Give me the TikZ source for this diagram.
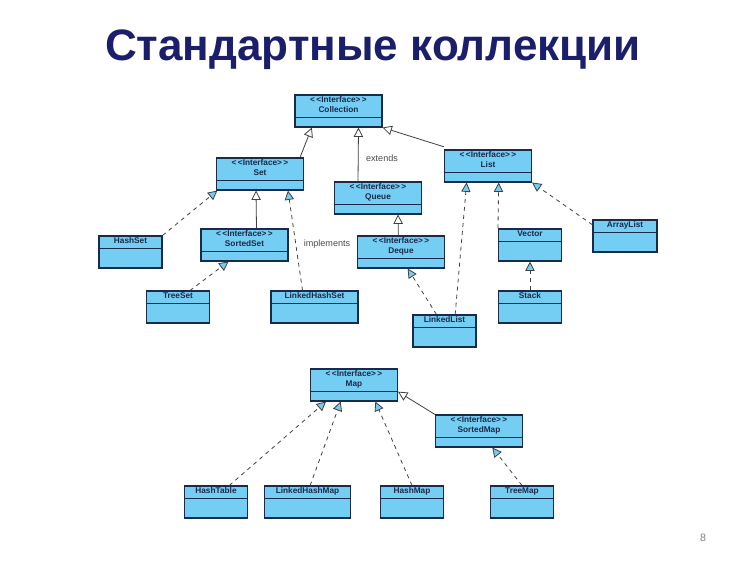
\documentclass[tikz,border=0pt]{standalone}
\usepackage{fontspec}
\setmainfont{Liberation Sans}
\usepackage{xcolor}
\usetikzlibrary{arrows.meta}
\definecolor{boxfill}{HTML}{74CDF2}
\definecolor{boxline}{HTML}{1A2A4A}
\definecolor{titleblue}{HTML}{1B1F6B}
\tikzset{
  umlbox/.style={draw=boxline,fill=boxfill,line width=0.8pt,rectangle,inner sep=0pt,minimum height=24pt},
  iface/.style={umlbox,path picture={\draw[boxline,line width=0.6pt]
      ([yshift=-17pt]path picture bounding box.north west) -- ([yshift=-17pt]path picture bounding box.north east);}},
  cls/.style={umlbox,path picture={\draw[boxline,line width=0.6pt]
      ([yshift=-9.5pt]path picture bounding box.north west) -- ([yshift=-9.5pt]path picture bounding box.north east);}},
  boxtext/.style={font=\bfseries\fontsize{6.2}{7.4}\selectfont,text=boxline,align=center,inner sep=1.6pt},
  ext/.style={draw=black!75,line width=0.6pt,-{Triangle[open,fill=white,length=7pt,width=7pt]}},
  impl/.style={draw=black!75,line width=0.6pt,dashed,-{Triangle[open,fill=boxfill,length=7pt,width=7pt]}},
}
% \ibox{name}{cx}{cy}{width px}{text}
\newcommand{\ibox}[5]{\node[iface,minimum width=#4*0.75pt,
  label={[boxtext,anchor=north]north:{<\,<Interface>\,>\\#5}}] (#1) at (#2,#3) {};}
\newcommand{\cbox}[5]{\node[cls,minimum width=#4*0.75pt,
  label={[boxtext,anchor=north,inner sep=1.2pt]north:{#5}}] (#1) at (#2,#3) {};}
\begin{document}
\begin{tikzpicture}[x=0.75pt,y=0.75pt,yscale=-1,xscale=1]
\useasboundingbox (0,0) rectangle (750,561);

% Title
\node[font=\bfseries\fontsize{33}{38}\selectfont,text=titleblue] (title) at (373,50) {Стандартные коллекции};

% Interfaces
\ibox{coll}{338.5}{111}{87}{Collection}
\ibox{set}{260}{174}{87}{Set}
\ibox{queue}{378}{198}{87}{Queue}
\ibox{list}{488}{166}{87}{List}
\ibox{sset}{244.5}{245}{87}{SortedSet}
\ibox{deque}{401}{252}{87}{Deque}
\ibox{map}{354}{385}{87}{Map}
\ibox{smap}{479}{431}{87}{SortedMap}

% Classes
\cbox{hset}{130.5}{252}{63}{HashSet}
\cbox{vector}{530}{245}{63}{Vector}
\cbox{alist}{625}{236}{64}{ArrayList}
\cbox{tset}{178}{307}{63}{TreeSet}
\cbox{lhset}{314.5}{307}{87}{LinkedHashSet}
\cbox{llist}{444.5}{331}{63}{LinkedList}
\cbox{stack}{530}{307}{63}{Stack}
\cbox{htable}{216}{502}{63}{HashTable}
\cbox{lhmap}{307.5}{502}{86}{LinkedHashMap}
\cbox{hmap}{412}{502}{63}{HashMap}
\cbox{tmap}{522}{502}{63}{TreeMap}

% extends
\draw[ext] ([xshift=30pt]set.north) -- ([xshift=-20pt]coll.south);
\draw[ext] ([xshift=-15pt]queue.north) -- ([xshift=15pt]coll.south);
\draw[ext] ([yshift=-2pt]list.north west) -- (coll.south east);
\draw[ext] ([xshift=9pt]sset.north) -- ([xshift=-3pt]set.south);
\draw[ext] ([xshift=-2pt]deque.north) -- ([xshift=15pt]queue.south);
\draw[ext] (smap.north west) -- ([yshift=5pt]map.east);

% implements
\draw[impl] (hset.north east) -- ([xshift=-32pt]set.south);
\draw[impl] ([xshift=-9pt]lhset.north) -- ([xshift=21pt]set.south);
\draw[impl] ([xshift=9pt]tset.north) -- ([xshift=-12pt]sset.south);
\draw[impl] ([xshift=-6pt]llist.north) -- ([xshift=5pt]deque.south);
\draw[impl] ([xshift=8pt]llist.north) -- ([xshift=-16pt]list.south);
\draw[impl] (vector.north west) -- ([xshift=8pt]list.south);
\draw[impl] ([yshift=4pt]alist.north west) -- (list.south east);
\draw[impl] (stack.north) -- (vector.south);
\draw[impl] ([xshift=10pt]htable.north) -- ([xshift=-21pt]map.south);
\draw[impl] ([xshift=2pt]lhmap.north) -- ([xshift=-10pt]map.south);
\draw[impl] (hmap.north) -- ([xshift=16pt]map.south);
\draw[impl] (tmap.north) -- ([xshift=10pt]smap.south);

% labels
\node[font=\fontsize{6.8}{7}\selectfont,text=black!70] (lext) at (382,158) {extends};
\node[font=\fontsize{6.8}{7}\selectfont,text=black!70] (limpl) at (327,244) {implements};
\node[font=\fontsize{8}{9}\selectfont,text=black!50] (page) at (703,538) {8};
\end{tikzpicture}
\end{document}
